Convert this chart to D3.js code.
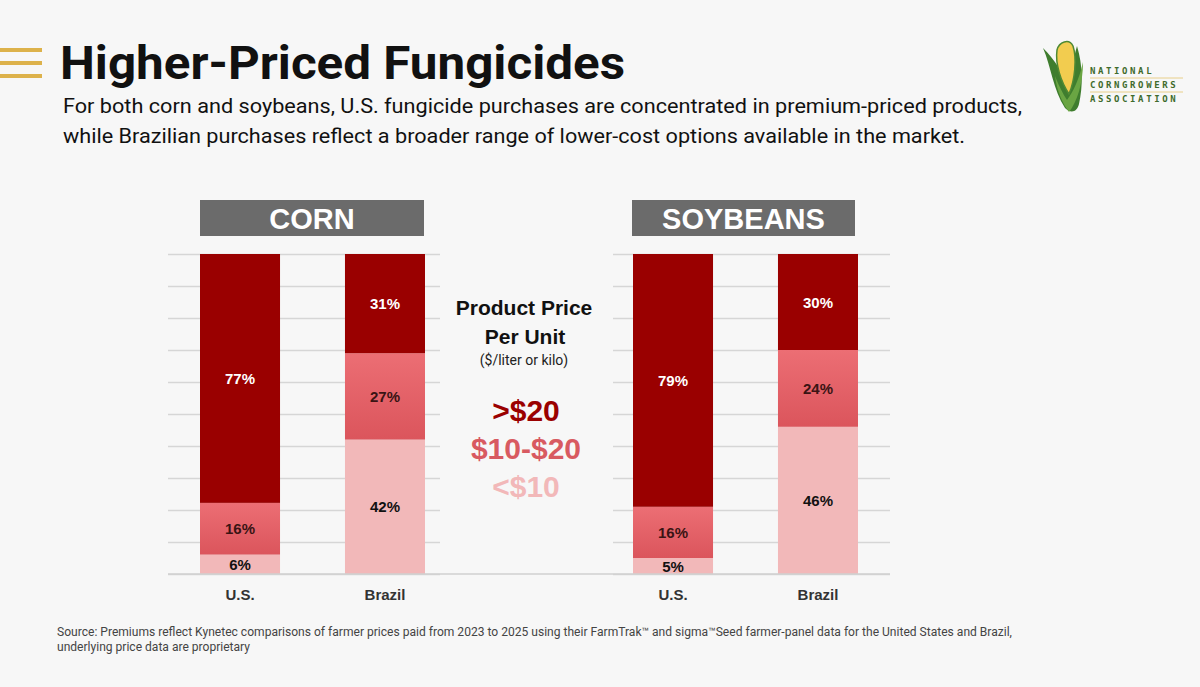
<html>
<head>
<title>Higher-Priced Fungicides</title>
<style>
  html, body { margin: 0; padding: 0; background: #f7f7f7; }
  svg { display: block; }
</style>
</head>
<body>
<svg id="viz"></svg>
<script src="https://cdn.jsdelivr.net/npm/d3@7"></script>
<script>
// chart data (percent of fungicide purchases by price tier)
var countries = ["U.S.", "Brazil"];
var tiers = ["over20", "mid", "under10"];      // stacked top -> bottom
var tierLabels = [">$20", "$10-$20", "<$10"];
var cornOver20 = [77, 31];
var cornMid = [16, 27];
var cornUnder10 = [6, 42];
var soyOver20 = [79, 30];
var soyMid = [16, 24];
var soyUnder10 = [5, 46];
var yTicks = [0, 0.1, 0.2, 0.3, 0.4, 0.5, 0.6, 0.7, 0.8, 0.9, 1];

var width = 1200, height = 687;
var tierColor = { over20: "#9a0000", mid: "url(#midGrad)", under10: "#f2b8b9" };
var legendColor = ["#9a0000", "#d85a61", "#f2b8b9"];
var textColor = { over20: "#ffffff", mid: "#3a1414", under10: "#111111" };

var svg = d3.select("#viz").attr("width", width).attr("height", height);
svg.append("rect").attr("width", width).attr("height", height).attr("fill", "#f7f7f7");

var defs = svg.append("defs");
var g1 = defs.append("linearGradient").attr("id", "midGrad").attr("x1", 0).attr("y1", 0).attr("x2", 0).attr("y2", 1);
g1.append("stop").attr("offset", "0%").attr("stop-color", "#ec6e74");
g1.append("stop").attr("offset", "100%").attr("stop-color", "#db555c");

// ---- header ----
[50, 63, 76].forEach(function(y) {
  svg.append("rect").attr("x", 0).attr("y", y - 2).attr("width", 42).attr("height", 4).attr("fill", "#ddb24b");
});
svg.append("text").attr("x", 60).attr("y", 79)
  .attr("font-family", "Roboto, 'Liberation Sans', sans-serif").attr("font-weight", 700)
  .attr("font-size", 46).attr("fill", "#111").attr("textLength", 565).attr("lengthAdjust", "spacingAndGlyphs")
  .text("Higher-Priced Fungicides");
var sub = [
  ["For both corn and soybeans, U.S. fungicide purchases are concentrated in premium-priced products,", 113, 959],
  ["while Brazilian purchases reflect a broader range of lower-cost options available in the market.", 143, 902]
];
sub.forEach(function(s) {
  svg.append("text").attr("x", 63).attr("y", s[1])
    .attr("font-family", "Roboto, sans-serif").attr("font-size", 20).attr("fill", "#111")
    .attr("textLength", s[2]).attr("lengthAdjust", "spacingAndGlyphs").text(s[0]);
});

// ---- logo ----
var logo = svg.append("g").attr("transform", "translate(1043,40)");
// outer husk
logo.append("path").attr("d", "M0,8 C8,26 10,50 22,68 C28,74 34,72 36,64 C40,46 40,26 34,6 C30,20 28,34 26,44 C20,34 12,20 0,8 Z").attr("fill", "#3f7d2e");
// cob
logo.append("path").attr("d", "M14,10 C16,2 26,-2 30,6 C34,18 32,40 26,54 C18,42 12,24 14,10 Z").attr("fill", "#f2cc4f").attr("stroke", "#4f8a34").attr("stroke-width", 1.5);
// front leaf
logo.append("path").attr("d", "M12,36 C14,52 20,64 26,72 C34,62 40,44 40,22 C36,40 30,52 24,60 C20,54 16,46 12,36 Z").attr("fill", "#6aa543");
var logoWords = ["NATIONAL", "CORNGROWERS", "ASSOCIATION"];
logoWords.forEach(function(w, i) {
  logo.append("text").attr("x", 47).attr("y", 34 + i * 14)
    .attr("font-family", "'DejaVu Sans Mono', monospace").attr("font-weight", 700).attr("font-size", 9)
    .attr("fill", "#3f6b2c").attr("letter-spacing", 2.6).text(w);
  if (i < 2) logo.append("line").attr("x1", 47).attr("x2", 140).attr("y1", 38 + i * 14).attr("y2", 38 + i * 14)
    .attr("stroke", "#e8cf8a").attr("stroke-width", 1);
});

// ---- charts ----
var y = d3.scaleLinear().domain([0, 1]).range([574, 254]);

function rows(over, mid, under) {
  return countries.map(function(c, i) { return { country: c, over20: over[i], mid: mid[i], under10: under[i] }; });
}

var panels = [
  { name: "CORN", data: rows(cornOver20, cornMid, cornUnder10), range: [200, 425], grid: [168, 440], head: [200, 424] },
  { name: "SOYBEANS", data: rows(soyOver20, soyMid, soyUnder10), range: [633, 858], grid: [613, 890], head: [632, 855] }
];

var stack = d3.stack().keys(tiers.slice().reverse()).offset(d3.stackOffsetExpand);

panels.forEach(function(p) {
  var g = svg.append("g");
  // gridlines
  g.append("g").attr("transform", "translate(" + p.grid[0] + ",0)")
    .call(d3.axisLeft(y).tickValues(yTicks).tickSize(-(p.grid[1] - p.grid[0])).tickFormat(""))
    .call(function(a) { a.select(".domain").remove(); a.selectAll("line").attr("stroke", "#d6d6d6").attr("stroke-width", 1.3); });

  // panel header
  g.append("rect").attr("x", p.head[0]).attr("y", 200).attr("width", p.head[1] - p.head[0]).attr("height", 36).attr("fill", "#6b6b6b");
  g.append("text").attr("x", (p.head[0] + p.head[1]) / 2).attr("y", 229).attr("text-anchor", "middle")
    .attr("font-family", "'Liberation Sans', Arial, sans-serif").attr("font-weight", 700).attr("font-size", 29)
    .attr("fill", "#fff").text(p.name);

  var x = d3.scaleBand().domain(countries).range(p.range).paddingInner(0.448).paddingOuter(0);
  var series = stack(p.data);

  var layer = g.selectAll(".layer").data(series).enter().append("g");
  layer.selectAll("rect").data(function(s) { return s.map(function(d) { d.key = s.key; return d; }); })
    .enter().append("rect")
    .attr("x", function(d) { return x(d.data.country); })
    .attr("width", x.bandwidth())
    .attr("y", function(d) { return y(d[1]); })
    .attr("height", function(d) { return y(d[0]) - y(d[1]); })
    .attr("fill", function(d) { return tierColor[d.key]; });
  layer.selectAll("text").data(function(s) { return s; })
    .enter().append("text")
    .attr("x", function(d) { return x(d.data.country) + x.bandwidth() / 2; })
    .attr("y", function(d) { return (y(d[0]) + y(d[1])) / 2 + 5.5; })
    .attr("text-anchor", "middle")
    .attr("font-family", "'Liberation Sans', Arial, sans-serif").attr("font-weight", 700).attr("font-size", 15)
    .attr("fill", function(d) { return textColor[d.key]; })
    .text(function(d) { return d.data[d.key] + "%"; });

  // category axis
  g.append("g").attr("transform", "translate(0,574)")
    .call(d3.axisBottom(x).tickSize(0).tickPadding(15))
    .call(function(a) {
      a.select(".domain").remove();
      a.selectAll("text").attr("font-family", "'Liberation Sans', Arial, sans-serif").attr("font-weight", 700)
        .attr("font-size", 15).attr("fill", "#333");
    });
});

// baseline across both panels
svg.append("line").attr("x1", 168).attr("x2", 890).attr("y1", y(0)).attr("y2", y(0)).attr("stroke", "#d0d0d0").attr("stroke-width", 1.3);

// ---- legend ----
var lg = svg.append("g").attr("text-anchor", "middle").attr("font-family", "'Liberation Sans', Arial, sans-serif");
lg.append("text").attr("x", 524).attr("y", 315).attr("font-weight", 700).attr("font-size", 21).attr("fill", "#111").text("Product Price");
lg.append("text").attr("x", 525).attr("y", 344).attr("font-weight", 700).attr("font-size", 21).attr("fill", "#111").text("Per Unit");
lg.append("text").attr("x", 524).attr("y", 365).attr("font-family", "Roboto, sans-serif").attr("font-size", 14).attr("fill", "#222").text("($/liter or kilo)");
tierLabels.forEach(function(t, i) {
  lg.append("text").attr("x", 526).attr("y", 421 + i * 38)
    .attr("font-weight", 700).attr("font-size", 30).attr("fill", legendColor[i]).text(t);
});

// ---- source ----
var src = [
  ["Source: Premiums reflect Kynetec comparisons of farmer prices paid from 2023 to 2025 using their FarmTrak\u2122 and sigma\u2122Seed farmer-panel data for the United States and Brazil,", 636, 955],
  ["underlying price data are proprietary", 651, 193]
];
src.forEach(function(s) {
  svg.append("text").attr("x", 57).attr("y", s[1]).attr("font-family", "Roboto, sans-serif").attr("font-size", 12)
    .attr("fill", "#444").attr("textLength", s[2]).attr("lengthAdjust", "spacingAndGlyphs").text(s[0]);
});
</script>
</body>
</html>
